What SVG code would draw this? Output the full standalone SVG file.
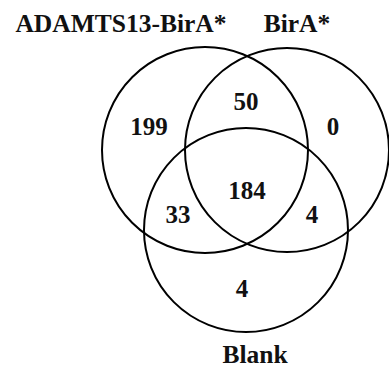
<svg xmlns="http://www.w3.org/2000/svg" width="389" height="368" viewBox="0 0 389 368">
<style>
.c{fill:none;stroke:#000;stroke-width:2}
text{font-family:"Liberation Serif","Times New Roman",serif;font-weight:bold;font-size:25px;fill:#111;text-anchor:middle}
.l{font-size:25.5px}
</style>
<rect width="389" height="368" fill="#fff"/>
<g id="set-adamts13"><circle class="c" cx="205" cy="150" r="103"/><text class="l" x="121" y="32">ADAMTS13-BirA*</text></g>
<g id="set-bira"><circle class="c" cx="287" cy="150" r="102"/><text class="l" x="297" y="32">BirA*</text></g>
<g id="set-blank"><circle class="c" cx="246" cy="230" r="102"/><text class="l" x="255" y="363">Blank</text></g>
<g id="counts">
<text x="149" y="135">199</text>
<text x="246" y="110">50</text>
<text x="333" y="135">0</text>
<text x="247" y="199">184</text>
<text x="178" y="223">33</text>
<text x="312" y="223">4</text>
<text x="242" y="297">4</text>
</g>
</svg>
